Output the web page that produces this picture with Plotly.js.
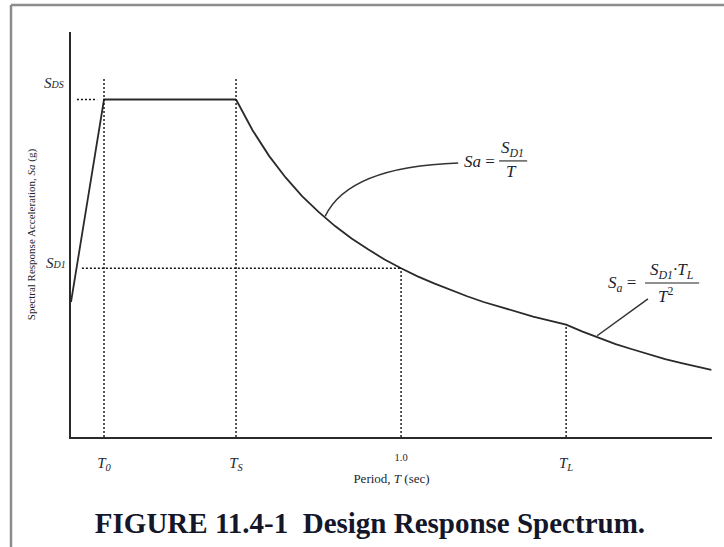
<!DOCTYPE html>
<html>
<head>
<meta charset="utf-8">
<script src="https://cdn.plot.ly/plotly-3.0.1.min.js"></script>
<style>
  html, body { margin: 0; padding: 0; background: #ffffff; }
  #chart { width: 724px; height: 547px; }
</style>
</head>
<body>
<div id="chart"></div>
<script>
// ---- Data ----
// Rising branch and plateau (period T in sec, Sa in units of S_DS)
const periodsRise = [0.0, 0.10, 0.50];
const saRise      = [0.40, 1.00, 1.00];

// Descending branch: Sa = S_D1/T up to T_L, then S_D1*T_L/T^2
const periodsDecay = [0.50, 0.55, 0.60, 0.65, 0.70, 0.75, 0.80, 0.85, 0.90, 0.95,
                      1.00, 1.05, 1.10, 1.15, 1.20, 1.25, 1.30, 1.35, 1.40, 1.45,
                      1.50, 1.55, 1.60, 1.65, 1.70, 1.75, 1.80, 1.85, 1.90, 1.94];
const saDecay      = [1.000, 0.909, 0.833, 0.769, 0.714, 0.667, 0.625, 0.588, 0.556, 0.526,
                      0.500, 0.476, 0.455, 0.435, 0.417, 0.400, 0.385, 0.370, 0.357, 0.345,
                      0.333, 0.312, 0.293, 0.275, 0.260, 0.245, 0.231, 0.219, 0.208, 0.199];

// Key periods (T0, TS, 1.0, TL) and the heights their dotted guides reach
const keyPeriods   = [0.10, 0.50, 1.00, 1.50];
const keyGuideTops = [1.065, 1.065, 0.50, 0.333];
const keyLabels    = ['<i>T</i><sub><i>0</i></sub>', '<i>T</i><sub><i>S</i></sub>',
                      '<sup>1.0</sup>', '<i>T</i><sub><i>L</i></sub>'];

// Spectral levels
const levelNames  = ['S_DS', 'S_D1'];
const levelValues = [1.00, 0.50];
// horizontal dotted guides: [start period, end period]
const sdsGuide = [0.018, 0.079];
const sd1Guide = [0.033, 1.00];

// ---- Traces ----
const ink = '#2a2a2a';
const traces = [];

traces.push({
  x: periodsRise, y: saRise, type: 'scatter', mode: 'lines',
  line: { color: ink, width: 1.8 }, hoverinfo: 'skip'
});
traces.push({
  x: periodsDecay, y: saDecay, type: 'scatter', mode: 'lines',
  line: { color: ink, width: 1.8 }, hoverinfo: 'skip'
});

// vertical dotted guides
const gx = [], gy = [];
keyPeriods.forEach((t, i) => { gx.push(t, t, null); gy.push(0, keyGuideTops[i], null); });
// horizontal dotted guides
gx.push(sdsGuide[0], sdsGuide[1], null); gy.push(levelValues[0], levelValues[0], null);
gx.push(sd1Guide[0], sd1Guide[1], null); gy.push(levelValues[1], levelValues[1], null);
traces.push({
  x: gx, y: gy, type: 'scatter', mode: 'lines',
  line: { color: '#111111', width: 1.4, dash: '2px,2px' }, hoverinfo: 'skip'
});

// ---- Layout ----
const serif = 'Liberation Serif, Times New Roman, serif';
const txt = '#1c1f2e';

const annotations = [
  { x: 0, y: 1.049, xref: 'x', yref: 'y', xanchor: 'right', yanchor: 'middle', xshift: -5,
    text: '<i>S<span style="font-size:10px">DS</span></i>', showarrow: false,
    font: { family: serif, size: 15, color: txt } },
  { x: 0, y: 0.515, xref: 'x', yref: 'y', xanchor: 'right', yanchor: 'middle', xshift: -3,
    text: '<i>S<span style="font-size:10px">D1</span></i>', showarrow: false,
    font: { family: serif, size: 15, color: txt } },
  // formula 1: Sa = S_D1 / T
  { x: 1.291, y: 0.817, xref: 'x', yref: 'y', xanchor: 'right', yanchor: 'middle',
    text: '<i>Sa</i> =', showarrow: false, font: { family: serif, size: 17, color: txt } },
  { x: 1.339, y: 0.818, xref: 'x', yref: 'y', xanchor: 'center', yanchor: 'bottom',
    text: '<i>S<sub>D1</sub></i>', showarrow: false, borderpad: 0,
    font: { family: serif, size: 17, color: txt } },
  { x: 1.336, y: 0.818, xref: 'x', yref: 'y', xanchor: 'center', yanchor: 'top',
    text: '<i>T</i>', showarrow: false, borderpad: 0,
    font: { family: serif, size: 17, color: txt } },
  // formula 2: S_a = S_D1*T_L / T^2
  { x: 1.718, y: 0.452, xref: 'x', yref: 'y', xanchor: 'right', yanchor: 'middle',
    text: '<i>S<sub>a</sub></i> =', showarrow: false, font: { family: serif, size: 17, color: txt } },
  { x: 1.821, y: 0.4565, xref: 'x', yref: 'y', xanchor: 'center', yanchor: 'bottom',
    text: '<i>S<sub>D1</sub>·T<sub>L</sub></i>', showarrow: false, borderpad: 0,
    font: { family: serif, size: 17, color: txt } },
  { x: 1.800, y: 0.4565, xref: 'x', yref: 'y', xanchor: 'center', yanchor: 'top',
    text: '<i>T</i><sup>2</sup>', showarrow: false, borderpad: 0,
    font: { family: serif, size: 17, color: txt } }
];

const frameColor = '#8c8c8c';
const shapes = [
  // leader lines
  { type: 'path', xref: 'x', yref: 'y', path: 'M 0.770,0.654 Q 0.841,0.801 1.173,0.812',
    line: { color: '#333333', width: 1.5 } },
  { type: 'line', xref: 'x', yref: 'y', x0: 1.594, y0: 0.300, x1: 1.748, y1: 0.409,
    line: { color: '#333333', width: 1.5 } },
  // fraction bars
  { type: 'line', xref: 'x', yref: 'y', x0: 1.297, x1: 1.382, y0: 0.818, y1: 0.818,
    line: { color: '#222222', width: 1.1 } },
  { type: 'line', xref: 'x', yref: 'y', x0: 1.739, x1: 1.903, y0: 0.4565, y1: 0.4565,
    line: { color: '#222222', width: 1.1 } },
  // page frame
  { type: 'line', xref: 'paper', yref: 'paper', x0: -0.0936, x1: 1.05, y0: 1.0667, y1: 1.0667,
    line: { color: frameColor, width: 2.5 } },
  { type: 'line', xref: 'paper', yref: 'paper', x0: -0.0936, x1: -0.0936, y0: 1.0667, y1: -0.30,
    line: { color: frameColor, width: 2.5 } }
];

const layout = {
  width: 724, height: 547,
  margin: { l: 71, r: 12, t: 32, b: 110 },
  paper_bgcolor: '#ffffff', plot_bgcolor: '#ffffff',
  showlegend: false,
  title: {
    text: 'FIGURE 11.4-1\u00a0 Design Response Spectrum.',
    xref: 'container', yref: 'container', x: 0.131, xanchor: 'left', y: 0.044, yanchor: 'middle',
    font: { family: serif, size: 29, color: '#14162a', weight: 'bold' }
  },
  xaxis: {
    range: [0, 1.942], showgrid: false, zeroline: false,
    showline: true, linecolor: ink, linewidth: 1.6,
    tickmode: 'array', tickvals: keyPeriods, ticktext: keyLabels,
    ticks: '', ticklabelstandoff: 11,
    tickfont: { family: serif, size: 15, color: txt },
    title: { text: 'Period, <i>T</i> (sec)', standoff: 2, font: { family: serif, size: 13, color: txt } },
    fixedrange: true
  },
  yaxis: {
    range: [0, 1.2], showgrid: false, zeroline: false,
    showline: true, linecolor: ink, linewidth: 1.6,
    showticklabels: false, ticks: '',
    title: { text: 'Spectral Response Acceleration, <i>Sa</i> (g)', standoff: 31,
             font: { family: serif, size: 11, color: txt } },
    fixedrange: true
  },
  annotations: annotations,
  shapes: shapes
};

Plotly.newPlot('chart', traces, layout, { displayModeBar: false, staticPlot: true });
</script>
</body>
</html>
